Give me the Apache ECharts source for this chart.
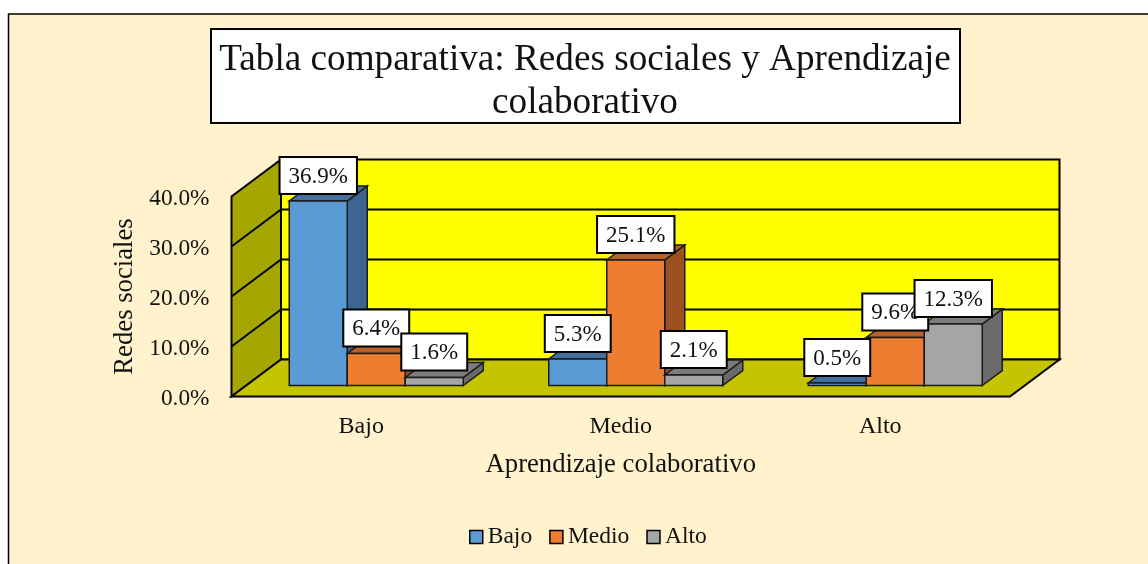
<!DOCTYPE html>
<html>
<head>
<meta charset="utf-8">
<style>html,body{margin:0;padding:0;background:#fff}#c{width:1148px;height:564px}</style>
<script src="https://cdn.jsdelivr.net/npm/echarts@6/dist/echarts.min.js"></script>
</head>
<body>
<div id="c"></div>
<script>
const categories = ['Bajo', 'Medio', 'Alto'];
const seriesNames = ['Bajo', 'Medio', 'Alto'];
const valuesBajo = [36.9, 5.3, 0.5];
const valuesMedio = [6.4, 25.1, 9.6];
const valuesAlto = [1.6, 2.1, 12.3];
const seriesValues = [valuesBajo, valuesMedio, valuesAlto];
const yTicks = [0, 10, 20, 30, 40];
const titleText = 'Tabla comparativa: Redes sociales y Aprendizaje\ncolaborativo';
const xAxisTitle = 'Aprendizaje colaborativo';
const yAxisTitle = 'Redes sociales';

const FONT = '"Liberation Serif", "Times New Roman", serif';
const faceColors = [
  { front: '#5b9bd5', top: '#41719c', side: '#3c6690' },
  { front: '#ed7d31', top: '#b8602a', side: '#9c5220' },
  { front: '#a5a5a5', top: '#7c7c7c', side: '#6a6a6a' }
];
const DEPTH = [49.5, -37];
const BAR_SHIFT = [15, -11];
const BAR_DEPTH = [20, -15];
const BAR_FRAC = 58 / 259.5;
const EDGE = '#1a1a1a';

function poly(points, fill, lw, stroke) {
  return { type: 'polygon', shape: { points }, style: { fill, stroke: stroke || '#000', lineWidth: lw, lineJoin: 'miter' } };
}

function renderWalls(params, api) {
  const band = api.size([1, 0])[0];
  const l = api.coord([0, 0])[0] - band / 2;
  const r = api.coord([categories.length - 1, 0])[0] + band / 2;
  const y0 = api.coord([0, yTicks[0]])[1];
  const y1 = api.coord([0, yTicks[yTicks.length - 1]])[1];
  const dx = DEPTH[0], dy = DEPTH[1];
  const children = [
    poly([[l + dx, y0 + dy], [r + dx, y0 + dy], [r + dx, y1 + dy], [l + dx, y1 + dy]], '#ffff00', 2),
    poly([[l, y0], [l + dx, y0 + dy], [l + dx, y1 + dy], [l, y1]], '#a6a600', 2),
    poly([[l, y0], [r, y0], [r + dx, y0 + dy], [l + dx, y0 + dy]], '#c4c400', 2)
  ];
  yTicks.slice(1, -1).forEach(t => {
    const y = api.coord([0, t])[1];
    children.push({ type: 'polyline', shape: { points: [[l, y], [l + dx, y + dy], [r + dx, y + dy]] }, style: { fill: null, stroke: '#000', lineWidth: 2 } });
  });
  return { type: 'group', children };
}

function barBox(api, si) {
  const cat = api.value(0), v = api.value(1);
  const w = api.size([1, 0])[0] * BAR_FRAC;
  const base = api.coord([cat, 0]);
  const top = api.coord([cat, v]);
  const x0 = base[0] + BAR_SHIFT[0] + (si - 1.5) * w;
  return { x0, x1: x0 + w, yb: base[1] + BAR_SHIFT[1], yt: top[1] + BAR_SHIFT[1] };
}

function renderBar(si) {
  return function (params, api) {
    const b = barBox(api, si);
    const c = faceColors[si];
    const dx = BAR_DEPTH[0], dy = BAR_DEPTH[1];
    return {
      type: 'group',
      children: [
        poly([[b.x1, b.yb], [b.x1 + dx, b.yb + dy], [b.x1 + dx, b.yt + dy], [b.x1, b.yt]], c.side, 1.5, EDGE),
        poly([[b.x0, b.yt], [b.x1, b.yt], [b.x1 + dx, b.yt + dy], [b.x0 + dx, b.yt + dy]], c.top, 1.5, EDGE),
        poly([[b.x0, b.yb], [b.x1, b.yb], [b.x1, b.yt], [b.x0, b.yt]], c.front, 1.5, EDGE)
      ]
    };
  };
}

function renderLabel(si) {
  return function (params, api) {
    const b = barBox(api, si);
    return {
      type: 'text',
      x: (b.x0 + b.x1) / 2,
      y: b.yt - 8,
      style: {
        text: api.value(1).toFixed(1) + '%',
        font: '23px ' + FONT,
        fill: '#111',
        align: 'center',
        verticalAlign: 'bottom',
        backgroundColor: '#fff',
        borderColor: '#000',
        borderWidth: 2,
        padding: [7, 8, 5, 8]
      }
    };
  };
}

const series = [{
  type: 'custom', name: 'walls', silent: true, z: 1, clip: false,
  data: [[0, 0]], renderItem: renderWalls, encode: { x: 0, y: 1 }, legendHoverLink: false
}];
seriesNames.forEach((name, si) => {
  series.push({
    type: 'custom', name, z: 2, clip: false,
    itemStyle: { color: faceColors[si].front },
    data: seriesValues[si].map((v, i) => [i, v]),
    encode: { x: 0, y: 1 },
    renderItem: renderBar(si)
  });
});
seriesNames.forEach((name, si) => {
  series.push({
    type: 'custom', name: name + ' etiquetas', z: 3 + si, clip: false, silent: true,
    data: seriesValues[si].map((v, i) => [i, v]),
    encode: { x: 0, y: 1 },
    renderItem: renderLabel(si)
  });
});

const chart = echarts.init(document.getElementById('c'), null, { renderer: 'canvas' });
chart.setOption({
  animation: false,
  backgroundColor: '#ffffff',
  graphic: [{
    type: 'rect', z: -10, silent: true,
    shape: { x: 8.5, y: 14, width: 1160, height: 580 },
    style: { fill: '#fff2cc', stroke: '#000', lineWidth: 1.5 }
  }, {
    type: 'rect', z: 1, silent: true,
    shape: { x: 211, y: 29, width: 749, height: 94 },
    style: { fill: '#fff', stroke: '#000', lineWidth: 2 }
  }],
  title: {
    text: titleText,
    left: 577, top: 29, textAlign: 'center', z: 8,
    padding: [10, 8, 0, 8],
    textStyle: { fontFamily: FONT, fontSize: 37.2, fontWeight: 'normal', color: '#111', lineHeight: 43 }
  },
  legend: {
    data: seriesNames,
    left: 469, top: 525, padding: 0,
    itemWidth: 13, itemHeight: 13, itemGap: 17,
    icon: 'rect',
    itemStyle: { borderColor: '#000', borderWidth: 1.5 },
    textStyle: { fontFamily: FONT, fontSize: 23.5, color: '#111' }
  },
  grid: { left: 231.5, top: 196.5, width: 778.5, height: 200, containLabel: false },
  xAxis: {
    type: 'category', data: categories,
    name: xAxisTitle, nameLocation: 'middle', nameGap: 55,
    nameTextStyle: { fontFamily: FONT, fontSize: 26.7, color: '#111' },
    axisLine: { show: false }, axisTick: { show: false }, splitLine: { show: false },
    axisLabel: { fontFamily: FONT, fontSize: 24, color: '#111', margin: 18 }
  },
  yAxis: {
    type: 'value', min: 0, max: 40, interval: 10,
    name: yAxisTitle, nameLocation: 'middle', nameGap: 92, nameRotate: 90,
    nameTextStyle: { fontFamily: FONT, fontSize: 26.7, color: '#111' },
    axisLine: { show: false }, axisTick: { show: false }, splitLine: { show: false },
    axisLabel: { fontFamily: FONT, fontSize: 23.3, color: '#111', margin: 22, verticalAlign: 'top', lineHeight: 4, formatter: v => v.toFixed(1) + '%' }
  },
  series
});
</script>
</body>
</html>
